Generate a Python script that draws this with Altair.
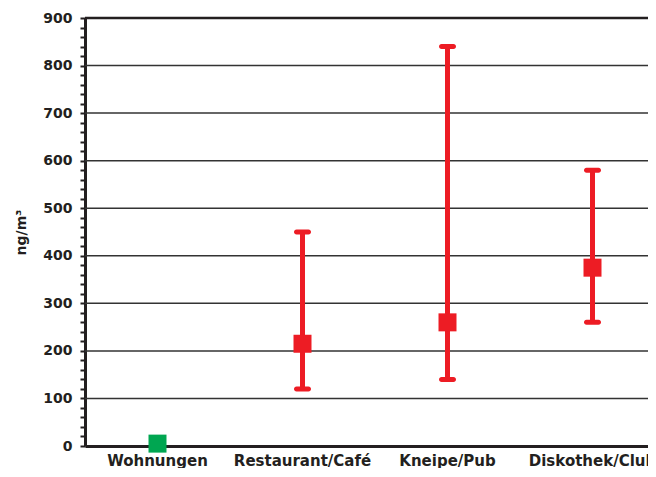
import altair as alt
import pandas as pd

categories = ["Wohnungen", "Restaurant/Café", "Kneipe/Pub", "Diskothek/Club"]
median = [5, 215, 260, 375]
low = [None, 120, 140, 260]
high = [None, 450, 840, 580]
colors = ["#00a651", "#ed1c24", "#ed1c24", "#ed1c24"]
grid_values = [100, 200, 300, 400, 500, 600, 700, 800]
top_value = [900]
tick_values = list(range(0, 901, 20))

df = pd.DataFrame({"cat": categories, "med": median, "low": low, "high": high, "col": colors})
grid_df = pd.DataFrame({"v": grid_values})
top_df = pd.DataFrame({"v": top_value})

FONT = "DejaVu Sans"
INK = "#231f20"

xscale = alt.Scale(domain=categories, range=[0, 580], paddingInner=0, paddingOuter=0)
yscale = alt.Scale(domain=[0, 900], nice=False)

x_axis = alt.Axis(title=None, labelAngle=0, ticks=False, tickSize=0,
                  labelPadding=7, labelFont=FONT, labelFontSize=15,
                  labelFontWeight="bold", labelColor=INK,
                  domainColor=INK, domainWidth=3, labelOverlap=False)

y_axis = alt.Axis(title="ng/m³", values=tick_values, grid=False,
                  labelExpr="datum.value % 100 === 0 ? datum.label : ''",
                  tickSize=5, tickWidth=2, tickColor=INK,
                  domainColor=INK, domainWidth=3,
                  labelPadding=8, labelFont=FONT, labelFontSize=14,
                  labelFontWeight="bold", labelColor=INK, labelOverlap=False,
                  labelBound=False, labelFlush=False,
                  titleFont=FONT, titleFontSize=14, titleFontWeight="bold",
                  titleColor=INK, titlePadding=14)


def X():
    return alt.X("cat:N", scale=xscale, sort=categories, axis=x_axis)


def Y(field):
    return alt.Y(field, scale=yscale, axis=y_axis)


grid = alt.Chart(grid_df).mark_rule(color="#333333", strokeWidth=1.5).encode(y=Y("v:Q"))
top = alt.Chart(top_df).mark_rule(color=INK, strokeWidth=2.5).encode(y=Y("v:Q"))

err_base = alt.Chart(df).transform_filter("isValid(datum.low)")

rules = err_base.mark_rule(color="#ed1c24", strokeWidth=5).encode(
    x=X(), y=Y("low:Q"), y2="high:Q"
)
cap_lo = err_base.mark_tick(color="#ed1c24", thickness=5, size=17, cornerRadius=2.5, opacity=1).encode(
    x=X(), y=Y("low:Q")
)
cap_hi = err_base.mark_tick(color="#ed1c24", thickness=5, size=17, cornerRadius=2.5, opacity=1).encode(
    x=X(), y=Y("high:Q")
)
points = alt.Chart(df).mark_square(size=324, opacity=1).encode(
    x=X(), y=Y("med:Q"),
    color=alt.Color("col:N", scale=None, legend=None)
)

chart = alt.layer(grid, top, rules, cap_lo, cap_hi, points).properties(
    width=563, height=428,
    autosize=alt.AutoSizeParams(type="none"),
    padding={"left": 77, "top": 10, "right": 0, "bottom": 22},
    background="white",
).configure_view(stroke=None)

chart.save("out.html", embed_options={"renderer": "svg", "actions": False})
